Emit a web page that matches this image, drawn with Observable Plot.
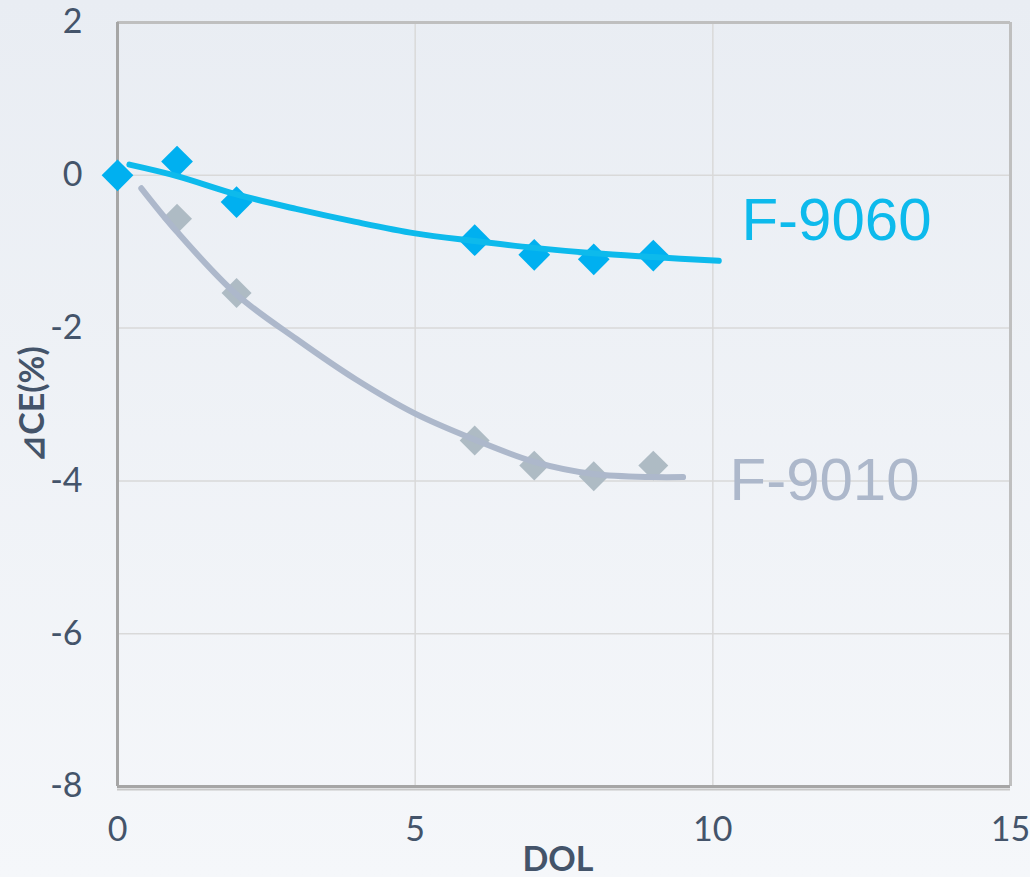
<!DOCTYPE html>
<html>
<head>
<meta charset="utf-8">
<script src="https://cdn.jsdelivr.net/npm/d3@7"></script>
<script src="https://cdn.jsdelivr.net/npm/@observablehq/plot@0.6"></script>
<style>
  html, body { margin: 0; padding: 0; }
  body { width: 1030px; height: 877px; overflow: hidden;
         background: linear-gradient(#e9edf3, #f5f7fa); }
  #chart svg { display: block; background: transparent; }
</style>
</head>
<body>
<div id="chart"></div>
<script>
// ---- data ----
const dol9060 = [0, 1, 2, 6, 7, 8, 9];
const ce9060 = [0, 0.18, -0.35, -0.85, -1.04, -1.10, -1.05];
const dol9010 = [1, 2, 6, 7, 8, 9];
const ce9010 = [-0.57, -1.54, -3.47, -3.80, -3.94, -3.80];

// trend lines
const trendDol9060 = [0.2, 1, 2, 3, 4, 5, 6, 7, 8, 9, 10.1];
const trendCe9060 = [0.14, -0.01, -0.25, -0.44, -0.61, -0.76, -0.86, -0.95, -1.02, -1.07, -1.12];
const trendDol9010 = [0.4, 1, 2, 3, 4, 5, 6, 7, 8, 9, 9.5];
const trendCe9010 = [-0.17, -0.74, -1.56, -2.14, -2.67, -3.12, -3.46, -3.75, -3.91, -3.95, -3.95];

const xTicks = [0, 5, 10, 15];
const yTicks = [2, 0, -2, -4, -6, -8];
const seriesNames = ["F-9060", "F-9010"];
const xLabel = "DOL";
const yLabel = "⊿CE(%)";

const pts9060 = dol9060.map((d, i) => ({x: d, y: ce9060[i]}));
const pts9010 = dol9010.map((d, i) => ({x: d, y: ce9010[i]}));
const tr9060 = trendDol9060.map((d, i) => ({x: d, y: trendCe9060[i]}));
const tr9010 = trendDol9010.map((d, i) => ({x: d, y: trendCe9010[i]}));

const blue = "#00b0f0", blueLine = "#0dbaec";
const greyDot = "#aebbc4", greyLine = "#adb8cb";
const tickColor = "#44546a";
const font = "'Liberation Sans Narrow', Lato, sans-serif";
const fmt = d => String(d);

const chart = Plot.plot({
  width: 1030,
  height: 877,
  marginLeft: 117,
  marginRight: 20,
  marginTop: 22,
  marginBottom: 91,
  style: {fontFamily: font, fontSize: "34px", color: tickColor, background: "transparent"},
  x: {domain: [0, 15], ticks: xTicks, label: null},
  y: {domain: [-8, 2], ticks: yTicks, label: null},
  marks: [
    // gridlines
    Plot.ruleX([5, 10], {stroke: "#d9d9d9", strokeWidth: 1.5}),
    Plot.ruleY([0, -2, -4, -6], {stroke: "#d9d9d9", strokeWidth: 1.5}),
    // frame: top & right
    Plot.ruleY([2], {stroke: "#bfbfbf", strokeWidth: 3}),
    Plot.ruleX([15], {stroke: "#bfbfbf", strokeWidth: 3}),
    // frame: left & bottom (darker)
    Plot.ruleX([0], {stroke: "#a6a6a6", strokeWidth: 3}),
    Plot.ruleY([-8], {stroke: "#a6a6a6", strokeWidth: 3}),
    Plot.ruleY([-8], {stroke: "#c8c8c8", strokeWidth: 2, dy: 3}),
    // axes
    Plot.axisX({ticks: xTicks, tickSize: 0, tickPadding: 30, fontSize: 34, label: null, fill: tickColor, tickFormat: fmt}),
    Plot.axisY({ticks: yTicks, tickSize: 0, tickPadding: 35, fontSize: 34, label: null, fill: tickColor, tickFormat: fmt}),
    // F-9010
    Plot.dot(pts9010, {x: "x", y: "y", symbol: "diamond2", r: 13.5, fill: greyDot, stroke: "none"}),
    Plot.line(tr9010, {x: "x", y: "y", stroke: greyLine, strokeWidth: 6, curve: "catmull-rom"}),
    // F-9060
    Plot.dot(pts9060, {x: "x", y: "y", symbol: "diamond2", r: 14.3, fill: blue, stroke: "none"}),
    Plot.line(tr9060, {x: "x", y: "y", stroke: blueLine, strokeWidth: 6, curve: "catmull-rom"}),
    // series labels
    Plot.text([seriesNames[0]], {x: 10.48, y: -0.6, text: d => d, textAnchor: "start", lineAnchor: "middle",
      fill: blueLine, fontSize: 60, fontFamily: "'Liberation Sans', Arial, sans-serif"}),
    Plot.text([seriesNames[1]], {x: 10.28, y: -4.0, text: d => d, textAnchor: "start", lineAnchor: "middle",
      fill: greyLine, fontSize: 60, fontFamily: "'Liberation Sans', Arial, sans-serif"}),
    // axis titles
    Plot.text([xLabel], {frameAnchor: "bottom", text: d => d, dx: -6, dy: 74, fontWeight: "bold",
      fontSize: 34, fill: tickColor, lineAnchor: "middle", textAnchor: "middle"}),
    Plot.text([yLabel], {frameAnchor: "left", text: d => d, dx: -84, rotate: -90, fontWeight: "bold",
      fontSize: 34, fill: tickColor, lineAnchor: "middle", textAnchor: "middle"})
  ]
});
document.getElementById("chart").appendChild(chart);
</script>
</body>
</html>
